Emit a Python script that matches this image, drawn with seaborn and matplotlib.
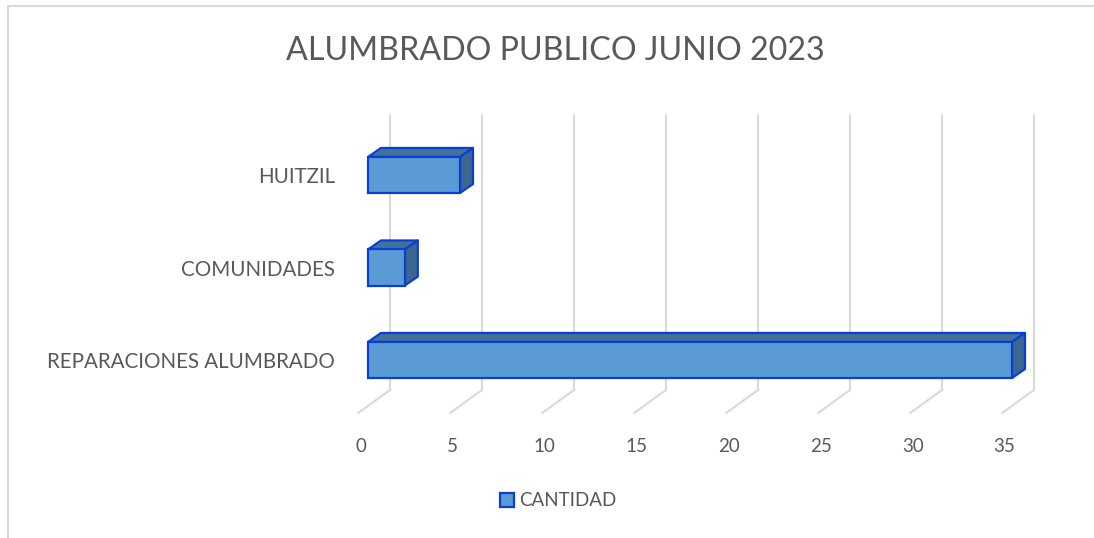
import matplotlib
matplotlib.use("Agg")
import matplotlib.pyplot as plt
from matplotlib.patches import Polygon, Patch
import seaborn as sns
import pandas as pd

# datos
categorias = ["HUITZIL", "COMUNIDADES", "REPARACIONES ALUMBRADO"]
cantidad = [5, 2, 35]
ticks = [0, 5, 10, 15, 20, 25, 30, 35]
titulo = "ALUMBRADO PUBLICO JUNIO 2023"
serie = "CANTIDAD"

df = pd.DataFrame({"categoria": categorias, "cantidad": cantidad})

sns.set_style("white")
plt.rcParams["font.family"] = ["Lato", "DejaVu Sans"]
gris = "#595959"
frente = "#5B9BD5"
tapa = "#41719C"
lado = "#3A6690"
borde = "#0B3FD4"
rejilla = "#D9D9D9"

W, H = 1094, 538
fig = plt.figure(figsize=(W / 100, H / 100), dpi=100)

# escala: 0 -> 368 px, 35 -> 1012 px ; filas a 175 / 267.5 / 360 px
px_x = (1012 - 368) / 35
px_y = 92.5
xlim = (-1.0, 37.5)
ylim = (2.65, -0.757)
left = 368 + xlim[0] * px_x
right = 368 + xlim[1] * px_x
top = 175 + ylim[1] * px_y
bottom = 175 + ylim[0] * px_y
ax = fig.add_axes([left / W, 1 - bottom / H, (right - left) / W, (bottom - top) / H])

sns.barplot(data=df, x="cantidad", y="categoria", orient="h", width=0.39,
            color=frente, edgecolor=borde, linewidth=1.6, saturation=1,
            ax=ax, zorder=3)

ax.set_xlim(*xlim)
ax.set_ylim(*ylim)

# profundidad 3D
dx = 13 / px_x
dy = 9 / px_y
for p in ax.patches:
    x0, y0 = p.get_x(), p.get_y()
    w, h = p.get_width(), p.get_height()
    ytop, ybot = y0, y0 + h
    ax.add_patch(Polygon([(x0, ytop), (x0 + w, ytop), (x0 + w + dx, ytop - dy), (x0 + dx, ytop - dy)],
                         closed=True, facecolor=tapa, edgecolor=borde, lw=1.6, zorder=2.9, joinstyle="round"))
    ax.add_patch(Polygon([(x0 + w, ytop), (x0 + w + dx, ytop - dy), (x0 + w + dx, ybot - dy), (x0 + w, ybot)],
                         closed=True, facecolor=lado, edgecolor=borde, lw=1.6, zorder=2.9, joinstyle="round"))

# rejilla del fondo y del piso
gx = 22 / px_x
y_fondo_top = (115 - 175) / px_y
y_fondo_bot = (390 - 175) / px_y
y_piso = (413 - 175) / px_y
for v in ticks:
    ax.plot([v + gx, v + gx, v - 0.54], [y_fondo_top, y_fondo_bot, y_piso],
            color=rejilla, lw=1.5, zorder=1, solid_joinstyle="miter")
    ax.text(v - 0.4, (446 - 175) / px_y, str(v), ha="center", va="center",
            fontsize=13.5, color=gris, clip_on=False)

ax.set_xticks([])
ax.set_xlabel("")
ax.set_ylabel("")
ax.tick_params(axis="y", length=0, pad=10.5, labelsize=14.8, labelcolor=gris)
sns.despine(ax=ax, left=True, bottom=True)
ax.patch.set_alpha(0)

fig.text(555 / W, 1 - 51 / H, titulo, ha="center", va="center", fontsize=23.2, color=gris)

fig.legend(handles=[Patch(facecolor=frente, edgecolor=borde, lw=1.6, label=serie)],
           loc="center", bbox_to_anchor=(558 / W, 1 - 501 / H), frameon=False,
           fontsize=13.5, labelcolor=gris, handlelength=0.75, handleheight=0.75,
           handletextpad=0.3)

# marco del grafico
fig.add_artist(plt.Line2D([8 / W, 8 / W], [0, 1 - 6 / H], color=rejilla, lw=1.5))
fig.add_artist(plt.Line2D([8 / W, 1], [1 - 6 / H, 1 - 6 / H], color=rejilla, lw=1.5))

fig.savefig("out.png", dpi=100)
